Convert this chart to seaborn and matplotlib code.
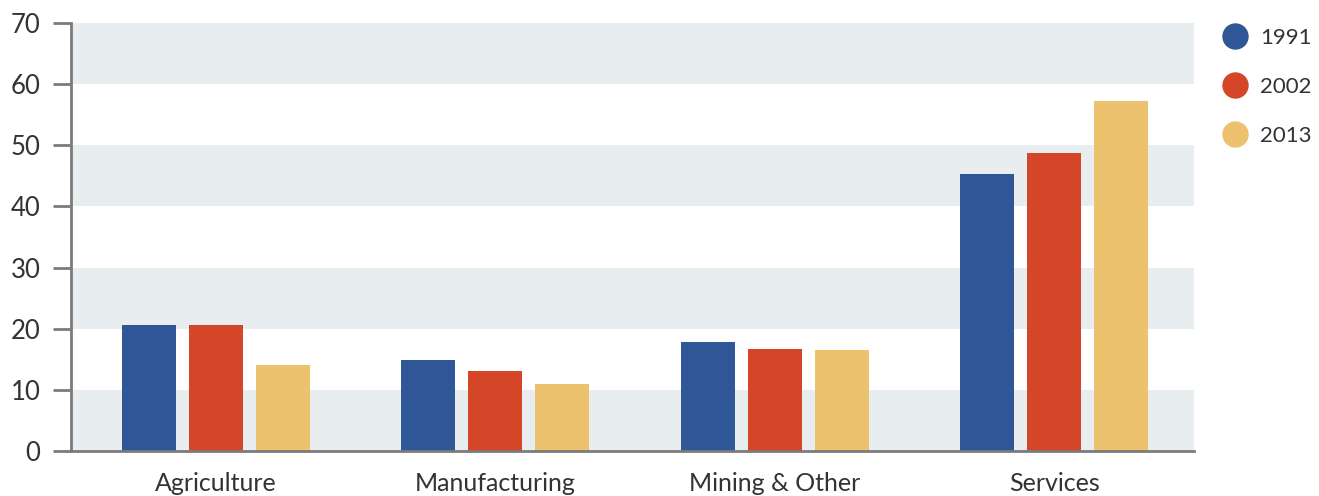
import matplotlib
matplotlib.use("Agg")
import matplotlib.pyplot as plt
from matplotlib.lines import Line2D
import seaborn as sns
import pandas as pd

sectors = ["Agriculture", "Manufacturing", "Mining & Other", "Services"]
years = ["1991", "2002", "2013"]
share_1991 = [20.6, 14.9, 17.8, 45.3]
share_2002 = [20.6, 13.1, 16.7, 48.8]
share_2013 = [14.1, 10.9, 16.6, 57.2]
y_ticks = [0, 10, 20, 30, 40, 50, 60, 70]

palette = ["#2f5696", "#d44627", "#ecc26f"]
band = "#e8edf0"
axis_col = "#7b7b7b"
text_col = "#333333"

rows = []
for yr, vals in zip(years, [share_1991, share_2002, share_2013]):
    for s, v in zip(sectors, vals):
        rows.append({"sector": s, "year": yr, "share": v})
df = pd.DataFrame(rows)

sns.set_theme(style="white")
plt.rcParams["font.family"] = ["Lato", "DejaVu Sans"]

fig = plt.figure(figsize=(13.19, 4.96), dpi=100)
ax = fig.add_axes([71 / 1319, 1 - 451 / 496, (1194 - 71) / 1319, (451 - 23) / 496])

# alternating horizontal bands behind the bars
for lo in y_ticks[:-1:2]:
    ax.axhspan(lo, lo + 10, color=band, lw=0, zorder=0)

sns.barplot(data=df, x="sector", y="share", hue="year", order=sectors,
            hue_order=years, palette=palette, width=0.719, gap=0.194,
            saturation=1, linewidth=0, edgecolor="none",
            ax=ax, legend=False, zorder=2)

ax.set_xlim(-0.517, 3.499)
ax.set_ylim(0, 70)
ax.set_yticks(y_ticks)
ax.set_xlabel("")
ax.set_ylabel("")

for side in ["top", "right"]:
    ax.spines[side].set_visible(False)
for side in ["left", "bottom"]:
    ax.spines[side].set_color(axis_col)
    ax.spines[side].set_linewidth(2)
    ax.spines[side].set_zorder(3)

ax.tick_params(axis="y", left=True, length=13, width=2, color=axis_col,
               pad=9, labelsize=18.5, labelcolor=text_col)
ax.tick_params(axis="x", bottom=False, pad=9, labelsize=18, labelcolor=text_col)

handles = [Line2D([0], [0], marker="o", linestyle="", markersize=18,
                  markerfacecolor=c, markeredgecolor=c) for c in palette]
fig.legend(handles, years, loc="upper left", bbox_to_anchor=(1208 / 1319, 1 - 19 / 496),
           frameon=False, fontsize=16, labelcolor=text_col, handletextpad=0.35,
           labelspacing=1.3, borderaxespad=0, handlelength=1.6)

fig.savefig("out.png", dpi=100)
